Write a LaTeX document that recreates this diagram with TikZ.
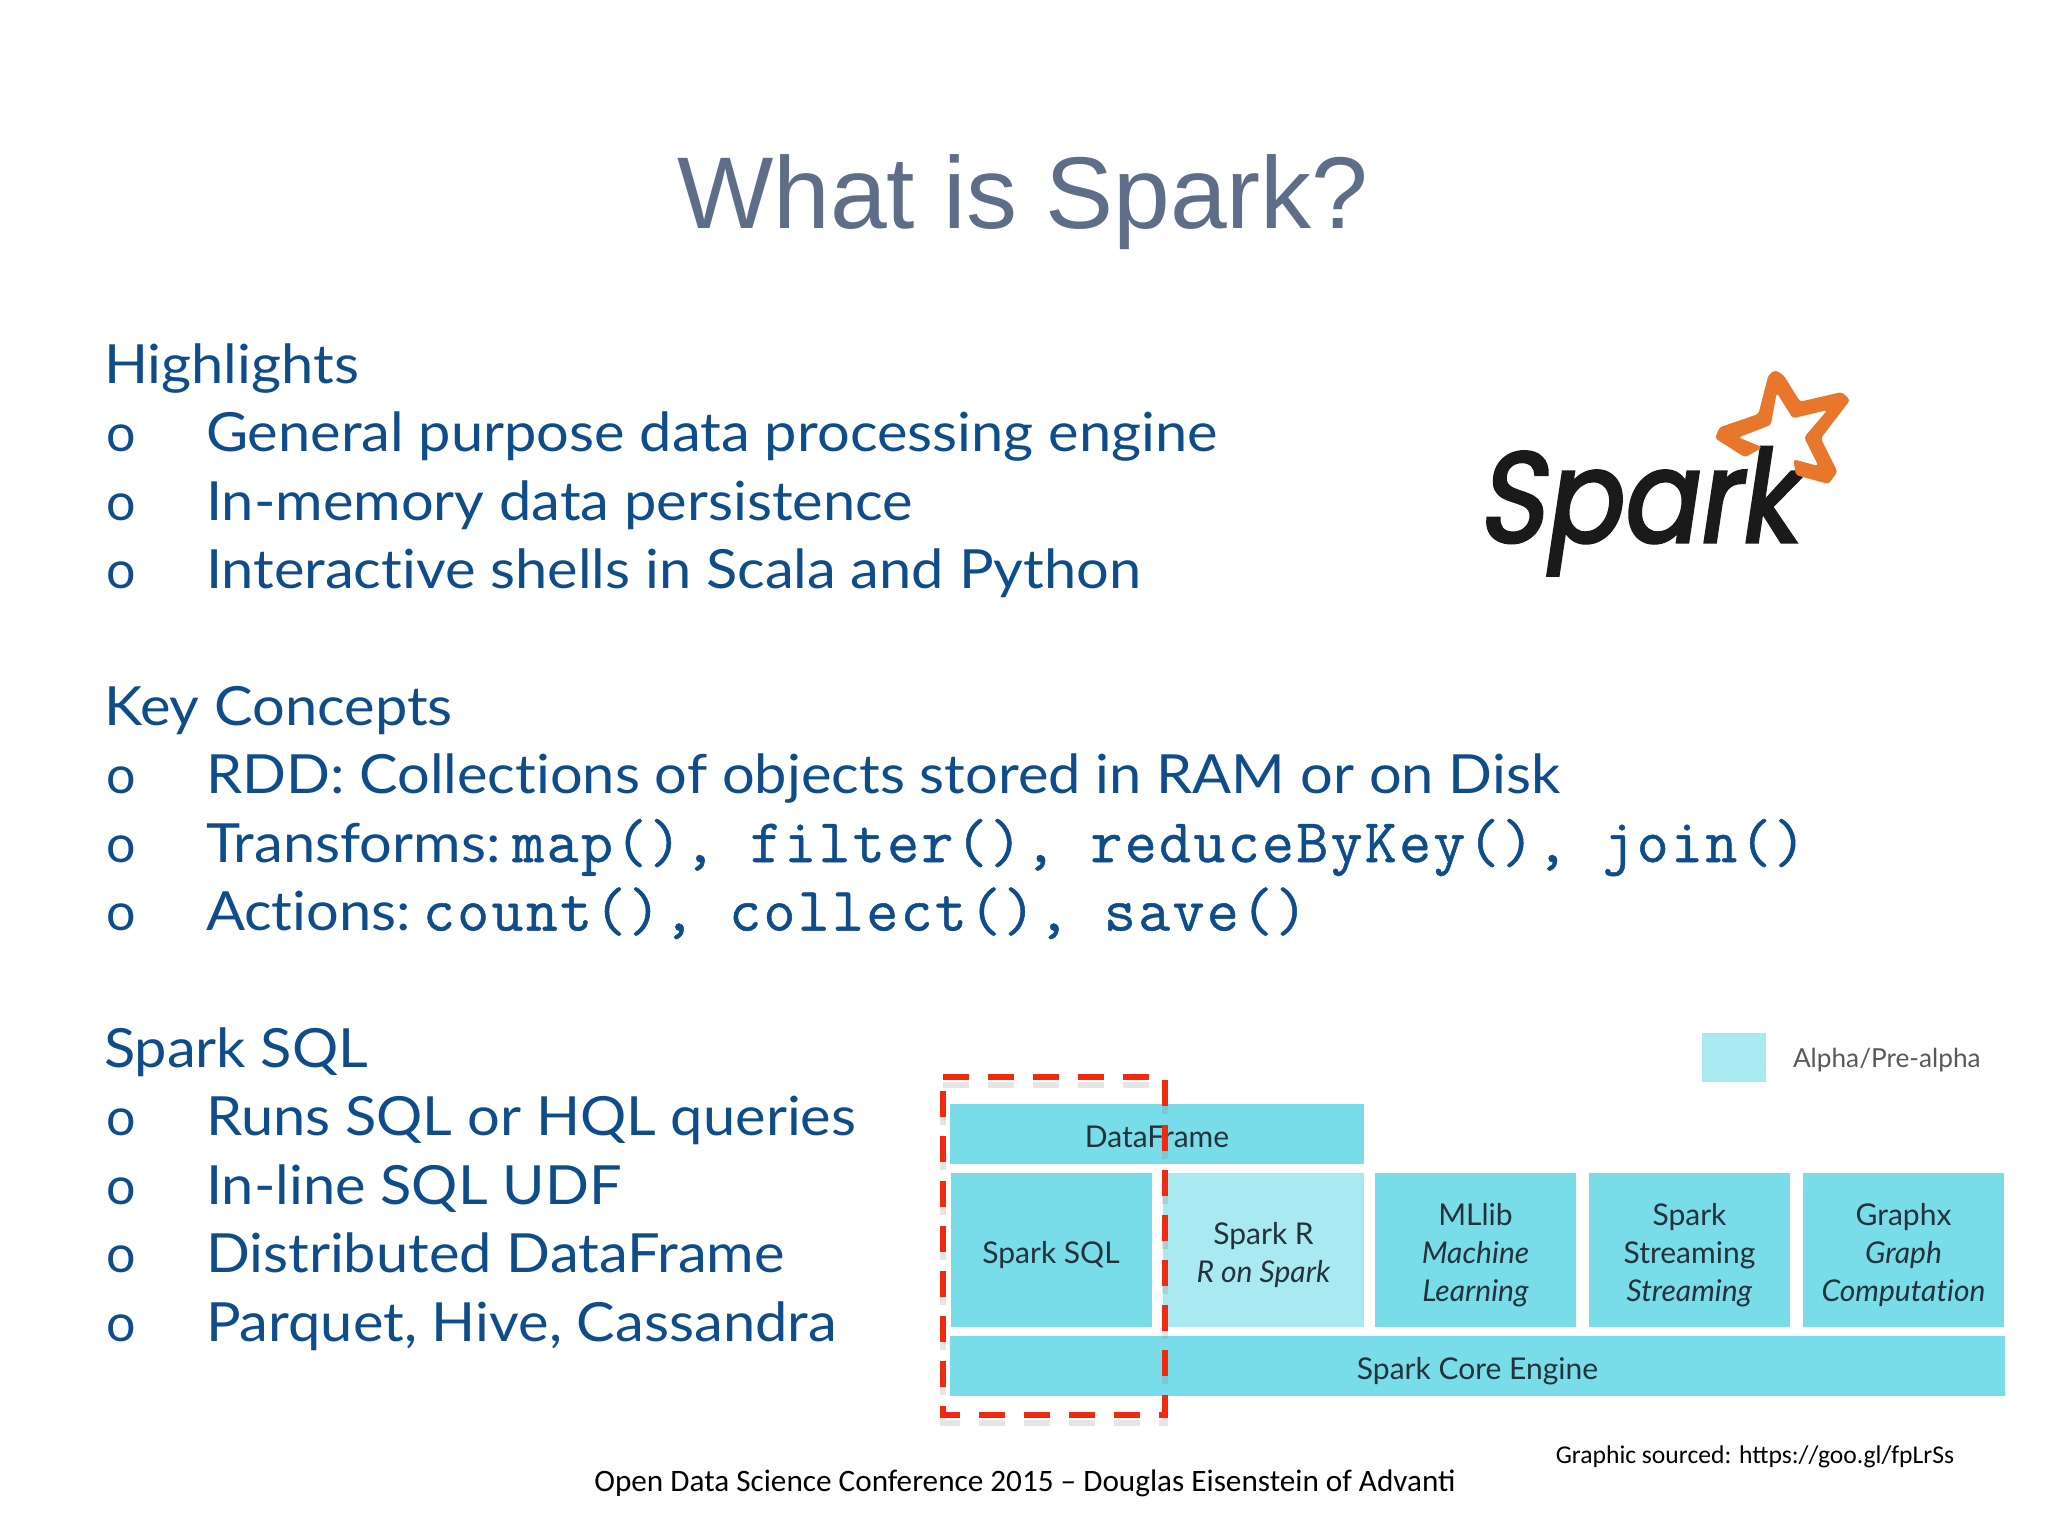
\documentclass[tikz,border=0pt]{standalone}
\usepackage{fontspec}
\setmainfont{Lato}[Ligatures=NoCommon]
\newfontfamily\bodyfont[FakeStretch=1.07,Ligatures=NoCommon]{Lato}
\newfontfamily\codefont[LetterSpace=3.8,FakeBold=0.8]{Latin Modern Mono}
\newfontfamily\titlefont{Liberation Sans}
\newfontfamily\notefont{Carlito}
\newfontfamily\logofont[FakeSlant=0.15,FakeStretch=0.88,FakeBold=2.5]{Poppins}
\usepackage{tikz}
\usetikzlibrary{positioning}

\definecolor{slidetitle}{HTML}{5F6E88}
\definecolor{slideblue}{HTML}{0F4C8A}
\definecolor{blockcyan}{HTML}{79DDE9}
\definecolor{blockpale}{HTML}{A9E9F1}
\definecolor{blocktext}{HTML}{25313B}
\definecolor{sparkorange}{HTML}{E8762B}
\definecolor{sparkblack}{HTML}{1A1A1A}
\definecolor{selred}{HTML}{F0290F}

\begin{document}
\begin{tikzpicture}[x=0.5pt,y=-0.5pt,node distance=107pt,
    every node/.style={inner sep=0pt,outer sep=0pt},
    slidehead/.style={anchor=base west,text=slideblue,font=\bodyfont\fontsize{27}{27}\selectfont},
    slideline/.style={anchor=base west,text=slideblue,font=\bodyfont\fontsize{27}{27}\selectfont},
    slidebullet/.style={anchor=base west,text=slideblue,font=\fontsize{26}{26}\selectfont},
    blocklabel/.style={text=blocktext,align=center,yshift=-2.75pt,font=\fontsize{15}{19}\selectfont},
    block/.style={fill=blockcyan,minimum width=100.5pt,minimum height=77pt},
    wideblock/.style={fill=blockcyan,minimum height=30pt},
    selbox/.style={draw=selred,line width=3.2pt,dash pattern=on 13pt off 9.5pt},
    selshadow/.style={draw=black!50,opacity=0.2,line width=3.2pt,dash pattern=on 13pt off 9.5pt}]
  \useasboundingbox[fill=white] (0,0) rectangle (2048,1536);

  \node[anchor=base,text=slidetitle,font=\titlefont\fontsize{51}{51}\selectfont] (title) at (1023,228) {What is Spark?};

  % Highlights
  \node[slidehead] (high) at (104,383) {Highlights};
  \node[slidebullet] (b1) at (106,451.5) {o};
  \node[slideline] (h1) at (206,451.5) {General purpose data processing engine};
  \node[slidebullet] (b2) at (106,520) {o};
  \node[slideline] (h2) at (206,520) {In-memory data persistence};
  \node[slidebullet] (b3) at (106,588.5) {o};
  \node[slideline] (h3) at (206,588.5) {Interactive shells in Scala and Python};

  % Key concepts
  \node[slidehead] (key) at (104,725) {Key Concepts};
  \node[slidebullet] (b4) at (106,793.5) {o};
  \node[slideline] (k1) at (206,793.5) {RDD: Collections of objects stored in RAM or on Disk};
  \node[slidebullet] (b5) at (106,862) {o};
  \node[slideline] (k2) at (206,862) {Transforms:\hspace{6pt}{\codefont\fontsize{31}{31}\selectfont map(), filter(), reduceByKey(), join()}};
  \node[slidebullet] (b6) at (106,930.5) {o};
  \node[slideline] (k3) at (206,930.5) {Actions:\hspace{6pt}{\codefont\fontsize{31}{31}\selectfont count(), collect(), save()}};

  % Spark SQL
  \node[slidehead] (sqlhead) at (104,1067) {Spark SQL};
  \node[slidebullet] (b7) at (106,1135.5) {o};
  \node[slideline] (s1) at (206,1135.5) {Runs SQL or HQL queries};
  \node[slidebullet] (b8) at (106,1204) {o};
  \node[slideline] (s2) at (206,1204) {In-line SQL UDF};
  \node[slidebullet] (b9) at (106,1272.5) {o};
  \node[slideline] (s3) at (206,1272.5) {Distributed DataFrame};
  \node[slidebullet] (b10) at (106,1341) {o};
  \node[slideline] (s4) at (206,1341) {Parquet, Hive, Cassandra};

  % logo
  \node[anchor=base west,text=sparkblack,font=\logofont\fontsize{64}{64}\selectfont] (logo) at (1478,542) {Spark};
  \begin{scope}[shift={(1400,340)},x=0.1667pt,y=-0.1667pt]
    \fill[sparkorange,rounded corners=1.5pt,even odd rule]
      (1035,352) -- (945,295) -- (958,262) -- (1075,222) -- (1105,105) -- (1125,90) -- (1150,105)
      -- (1200,185) -- (1325,156) -- (1350,180) -- (1262,295) -- (1312,395) -- (1285,432)
      -- (1187,405) -- (1180,358) -- (1255,378) -- (1212,292) -- (1282,210) -- (1178,235)
      -- (1130,158) -- (1112,255) -- (1015,292) -- (1087,322) -- cycle;
  \end{scope}

  % stack
  \node[fill=blockpale,minimum width=32pt,minimum height=24.5pt] (legend) at (1734,1057.5) {};
  \node[anchor=west,text=black!65,font=\fontsize{13.1}{13.1}\selectfont] (legendtext) at (1793,1060) {Alpha/Pre-alpha};

  \node[wideblock,minimum width=207pt,label={[blocklabel,yshift=1.25pt]center:DataFrame}] (dataframe) at (1157,1133.5) {};
  \node[block,label={[blocklabel]center:Spark SQL}] (sparksql) at (1051,1250) {};
  \node[block,fill=blockpale,label={[blocklabel]center:Spark R\\\textit{R on Spark}}] (sparkr) at (1263.5,1250) {};
  \node[block,label={[blocklabel]center:MLlib\\\textit{Machine}\\\textit{Learning}}] (mllib) [right of=sparkr,node distance=106pt] {};
  \node[block,label={[blocklabel]center:Spark\\Streaming\\\textit{Streaming}}] (streaming) [right of=mllib] {};
  \node[block,label={[blocklabel]center:Graphx\\\textit{Graph}\\\textit{Computation}}] (graphx) [right of=streaming] {};
  \node[wideblock,minimum width=527.5pt,label={[blocklabel]center:Spark Core Engine}] (core) at (1477.5,1366) {};

  \node[anchor=base,font=\notefont\fontsize{12.8}{12.8}\selectfont] (sourced) at (1755,1463) {Graphic sourced: https://goo.gl/fpLrSs};
  \node[anchor=base,font=\notefont\fontsize{15.6}{15.6}\selectfont] (footer) at (1025,1491) {Open Data Science Conference 2015 – Douglas Eisenstein of Advanti};

  % dashed selection
  \coordinate (selnw) at (943,1077);
  \coordinate (selne) at (1165,1077);
  \coordinate (selse) at (1165,1415);
  \coordinate (selsw) at (943,1415);
  \draw[selshadow] ([yshift=-4pt]selnw) -- ([yshift=-4pt]selne) -- ([yshift=-4pt]selse) -- ([yshift=-4pt]selsw) -- cycle;
  \draw[selbox] (selnw) -- (selne) -- (selse) -- (selsw) -- cycle;
\end{tikzpicture}
\end{document}
